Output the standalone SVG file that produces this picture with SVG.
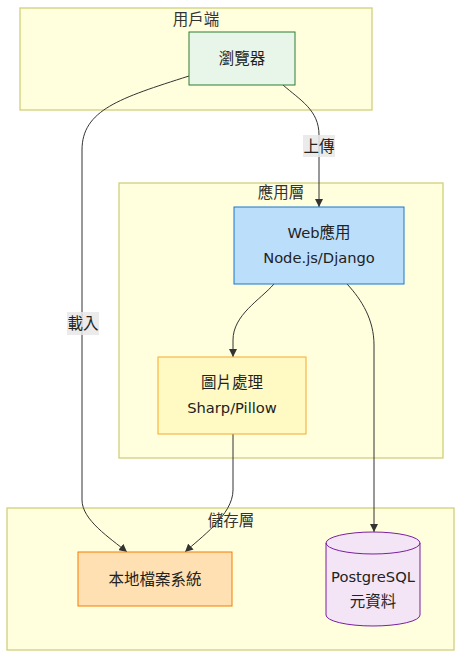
<svg xmlns="http://www.w3.org/2000/svg" width="470" height="670" viewBox="0 0 470 670">
<defs>
<style>
.cluster{fill:#ffffde;stroke:#d0d07a;stroke-width:1.3}
.ct{font-family:"DejaVu Sans","Noto Sans CJK TC",sans-serif;font-size:15.5px;fill:#333;text-anchor:middle}
.nt{font-family:"DejaVu Sans","Noto Sans CJK TC",sans-serif;font-size:14.7px;fill:#222;text-anchor:middle}
.cj{font-size:15.5px}
.edge{fill:none;stroke:#333;stroke-width:1}
.lbg{fill:#e8e8e8;opacity:0.85}
</style>
<marker id="arr" viewBox="0 0 10 10" refX="10" refY="5" markerWidth="8" markerHeight="8" markerUnits="userSpaceOnUse" orient="auto">
<path d="M0,0 L10,5 L0,10 z" fill="#333"/>
</marker>
</defs>
<rect width="470" height="670" fill="#fff"/>
<g id="cluster-client"><rect class="cluster" x="20" y="8" width="352" height="102"/><text class="ct" x="196" y="25">用戶端</text></g>
<g id="cluster-app"><rect class="cluster" x="119" y="183" width="324" height="275"/><text class="ct" x="281" y="198">應用層</text></g>
<g id="cluster-storage"><rect class="cluster" x="7" y="508" width="447" height="142"/><text class="ct" x="231" y="526">儲存層</text></g>
<g id="edges">
<path class="edge" d="M189,76 C120,98 82,110 82,150 L82,500 C82,520 110,538 127,552" marker-end="url(#arr)"/>
<path class="edge" d="M283,85 C300,100 319,110 319,135 L319,207" marker-end="url(#arr)"/>
<path class="edge" d="M274,284 C260,300 233,315 233,340 L233,357" marker-end="url(#arr)"/>
<path class="edge" d="M233,434 L233,490 C233,515 200,538 185,552" marker-end="url(#arr)"/>
<path class="edge" d="M347,284 C362,300 374,320 374,345 L374,532" marker-end="url(#arr)"/>
<rect class="lbg" x="303" y="135" width="32" height="22"/><text class="nt cj" x="319" y="152">上傳</text>
<rect class="lbg" x="67" y="312" width="32" height="23"/><text class="nt cj" x="83" y="329">載入</text>
</g>
<g id="browser"><rect x="189" y="32" width="106" height="53" fill="#e8f5e9" stroke="#2e7d32"/><text class="nt cj" x="242" y="64">瀏覽器</text></g>
<g id="webapp"><rect x="234" y="207" width="170" height="77" fill="#bbdefb" stroke="#1976d2"/><text class="nt" x="319" y="238">Web<tspan class="cj">應用</tspan></text><text class="nt" x="319" y="263">Node.js/Django</text></g>
<g id="imgproc"><rect x="158" y="357" width="148" height="77" fill="#fff9c4" stroke="#f9a825"/><text class="nt cj" x="232" y="388">圖片處理</text><text class="nt" x="232" y="413">Sharp/Pillow</text></g>
<g id="localfs"><rect x="78" y="552" width="154" height="54" fill="#ffe0b2" stroke="#f57c00"/><text class="nt cj" x="155" y="585">本地檔案系統</text></g>
<g id="postgres">
<path d="M326,543 A47,11 0 0 1 420,543 L420,615 A47,11 0 0 1 326,615 Z" fill="#f3e5f5" stroke="#7b1fa2"/>
<path d="M326,543 A47,11 0 0 0 420,543" fill="none" stroke="#7b1fa2"/>
<text class="nt" x="373" y="582">PostgreSQL</text><text class="nt cj" x="373" y="607">元資料</text>
</g>
</svg>
